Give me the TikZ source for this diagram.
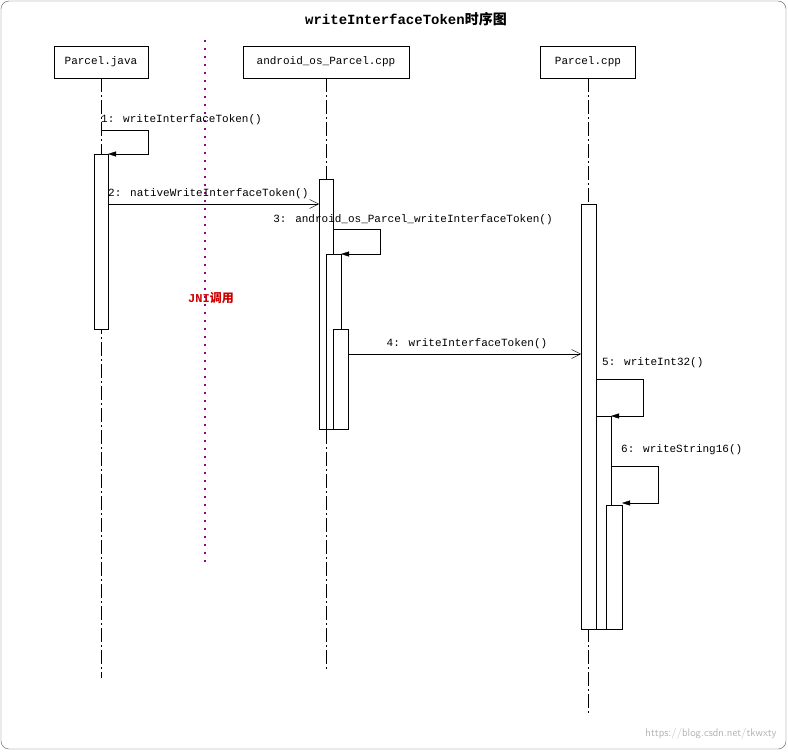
\documentclass[tikz,border=0pt]{standalone}
\usepackage{fontspec}
\setmainfont{Liberation Mono}
\newfontfamily\cjk{Noto Sans CJK SC}
\usetikzlibrary{arrows.meta}
\begin{document}
\begin{tikzpicture}[x=1pt,y=-1pt,
  obj/.style = {draw,minimum height=32pt,inner sep=0pt,font=\fontsize{11}{12}\selectfont},
  life/.style = {dash pattern=on 14pt off 3pt on 2pt off 3pt},
  act/.style = {draw,fill=white},
  msg/.style = {font=\fontsize{11}{12}\selectfont,inner sep=1pt},
  call/.style = {-{Straight Barb[length=9pt,width=9pt]}},
  ret/.style = {-{Triangle[length=8pt,width=5pt]}}]
\useasboundingbox (0,0) rectangle (788,752);
\draw[rounded corners=8pt,gray!70!black] (1,1) rectangle (786,749);
\node[font=\bfseries\fontsize{14}{16}\selectfont] (title) at (406,19) {writeInterfaceToken{\cjk 时序图}};
% objects
\node[obj,minimum width=94pt] (java) at (101,62) {Parcel.java};
\node[obj,minimum width=166pt] (jni) at (326,62) {android\_os\_Parcel.cpp};
\node[obj,minimum width=95pt] (cpp) at (588,62) {Parcel.cpp};
% lifelines
\coordinate (javaend) at (101,678);
\coordinate (jniend) at (326,672);
\coordinate (cppend) at (588,715);
\draw[life] (java) -- (javaend);
\draw[life] (jni) -- (jniend);
\draw[life] (cpp) -- (cppend);
\coordinate (jtop) at (205,40);
\coordinate (jbot) at (205,565);
\draw[violet!80!magenta,line width=2pt,dash pattern=on 2pt off 6pt] (jtop) -- (jbot);
\node[text=red!80!black,font=\bfseries\fontsize{12}{14}\selectfont] (jnilabel) at (211,298) {JNI{\cjk 调用}};
% activations
\draw[act] (94,154) rectangle (108,329);
\draw[act] (319,179) rectangle (333,429);
\draw[act] (326,254) rectangle (341,429);
\draw[act] (333,329) rectangle (348,429);
\draw[act] (581,204) rectangle (596,629);
\draw[act] (596,416) rectangle (611,629);
\draw[act] (606,505) rectangle (622,629);
% messages
\coordinate (m1a) at (101,130); \coordinate (m1b) at (108,154);
\draw[ret] (m1a) -| (148,154) -- (m1b);
\node[msg,anchor=west] (l1) at (100,120) {1: writeInterfaceToken()};
\coordinate (m2a) at (108,204); \coordinate (m2b) at (319,204);
\draw[call] (m2a) -- (m2b);
\node[msg,anchor=west] (l2) at (107,194) {2: nativeWriteInterfaceToken()};
\coordinate (m3a) at (333,229); \coordinate (m3b) at (341,254);
\draw[ret] (m3a) -| (380,254) -- (m3b);
\node[msg] (l3) at (413,220) {3: android\_os\_Parcel\_writeInterfaceToken()};
\coordinate (m4a) at (348,354); \coordinate (m4b) at (581,354);
\draw[call] (m4a) -- (m4b);
\node[msg] (l4) at (467,344) {4: writeInterfaceToken()};
\coordinate (m5a) at (596,379); \coordinate (m5b) at (611,416);
\draw[ret] (m5a) -| (643,416) -- (m5b);
\node[msg,anchor=west] (l5) at (601,363) {5: writeInt32()};
\coordinate (m6a) at (611,466); \coordinate (m6b) at (622,503);
\draw[ret] (m6a) -| (658,503) -- (m6b);
\node[msg,anchor=west] (l6) at (620,450) {6: writeString16()};
\node[text=gray!60,font=\sffamily\fontsize{11}{12}\selectfont,anchor=east] (wm) at (780,734) {https://blog.csdn.net/tkwxty};
\end{tikzpicture}
\end{document}
